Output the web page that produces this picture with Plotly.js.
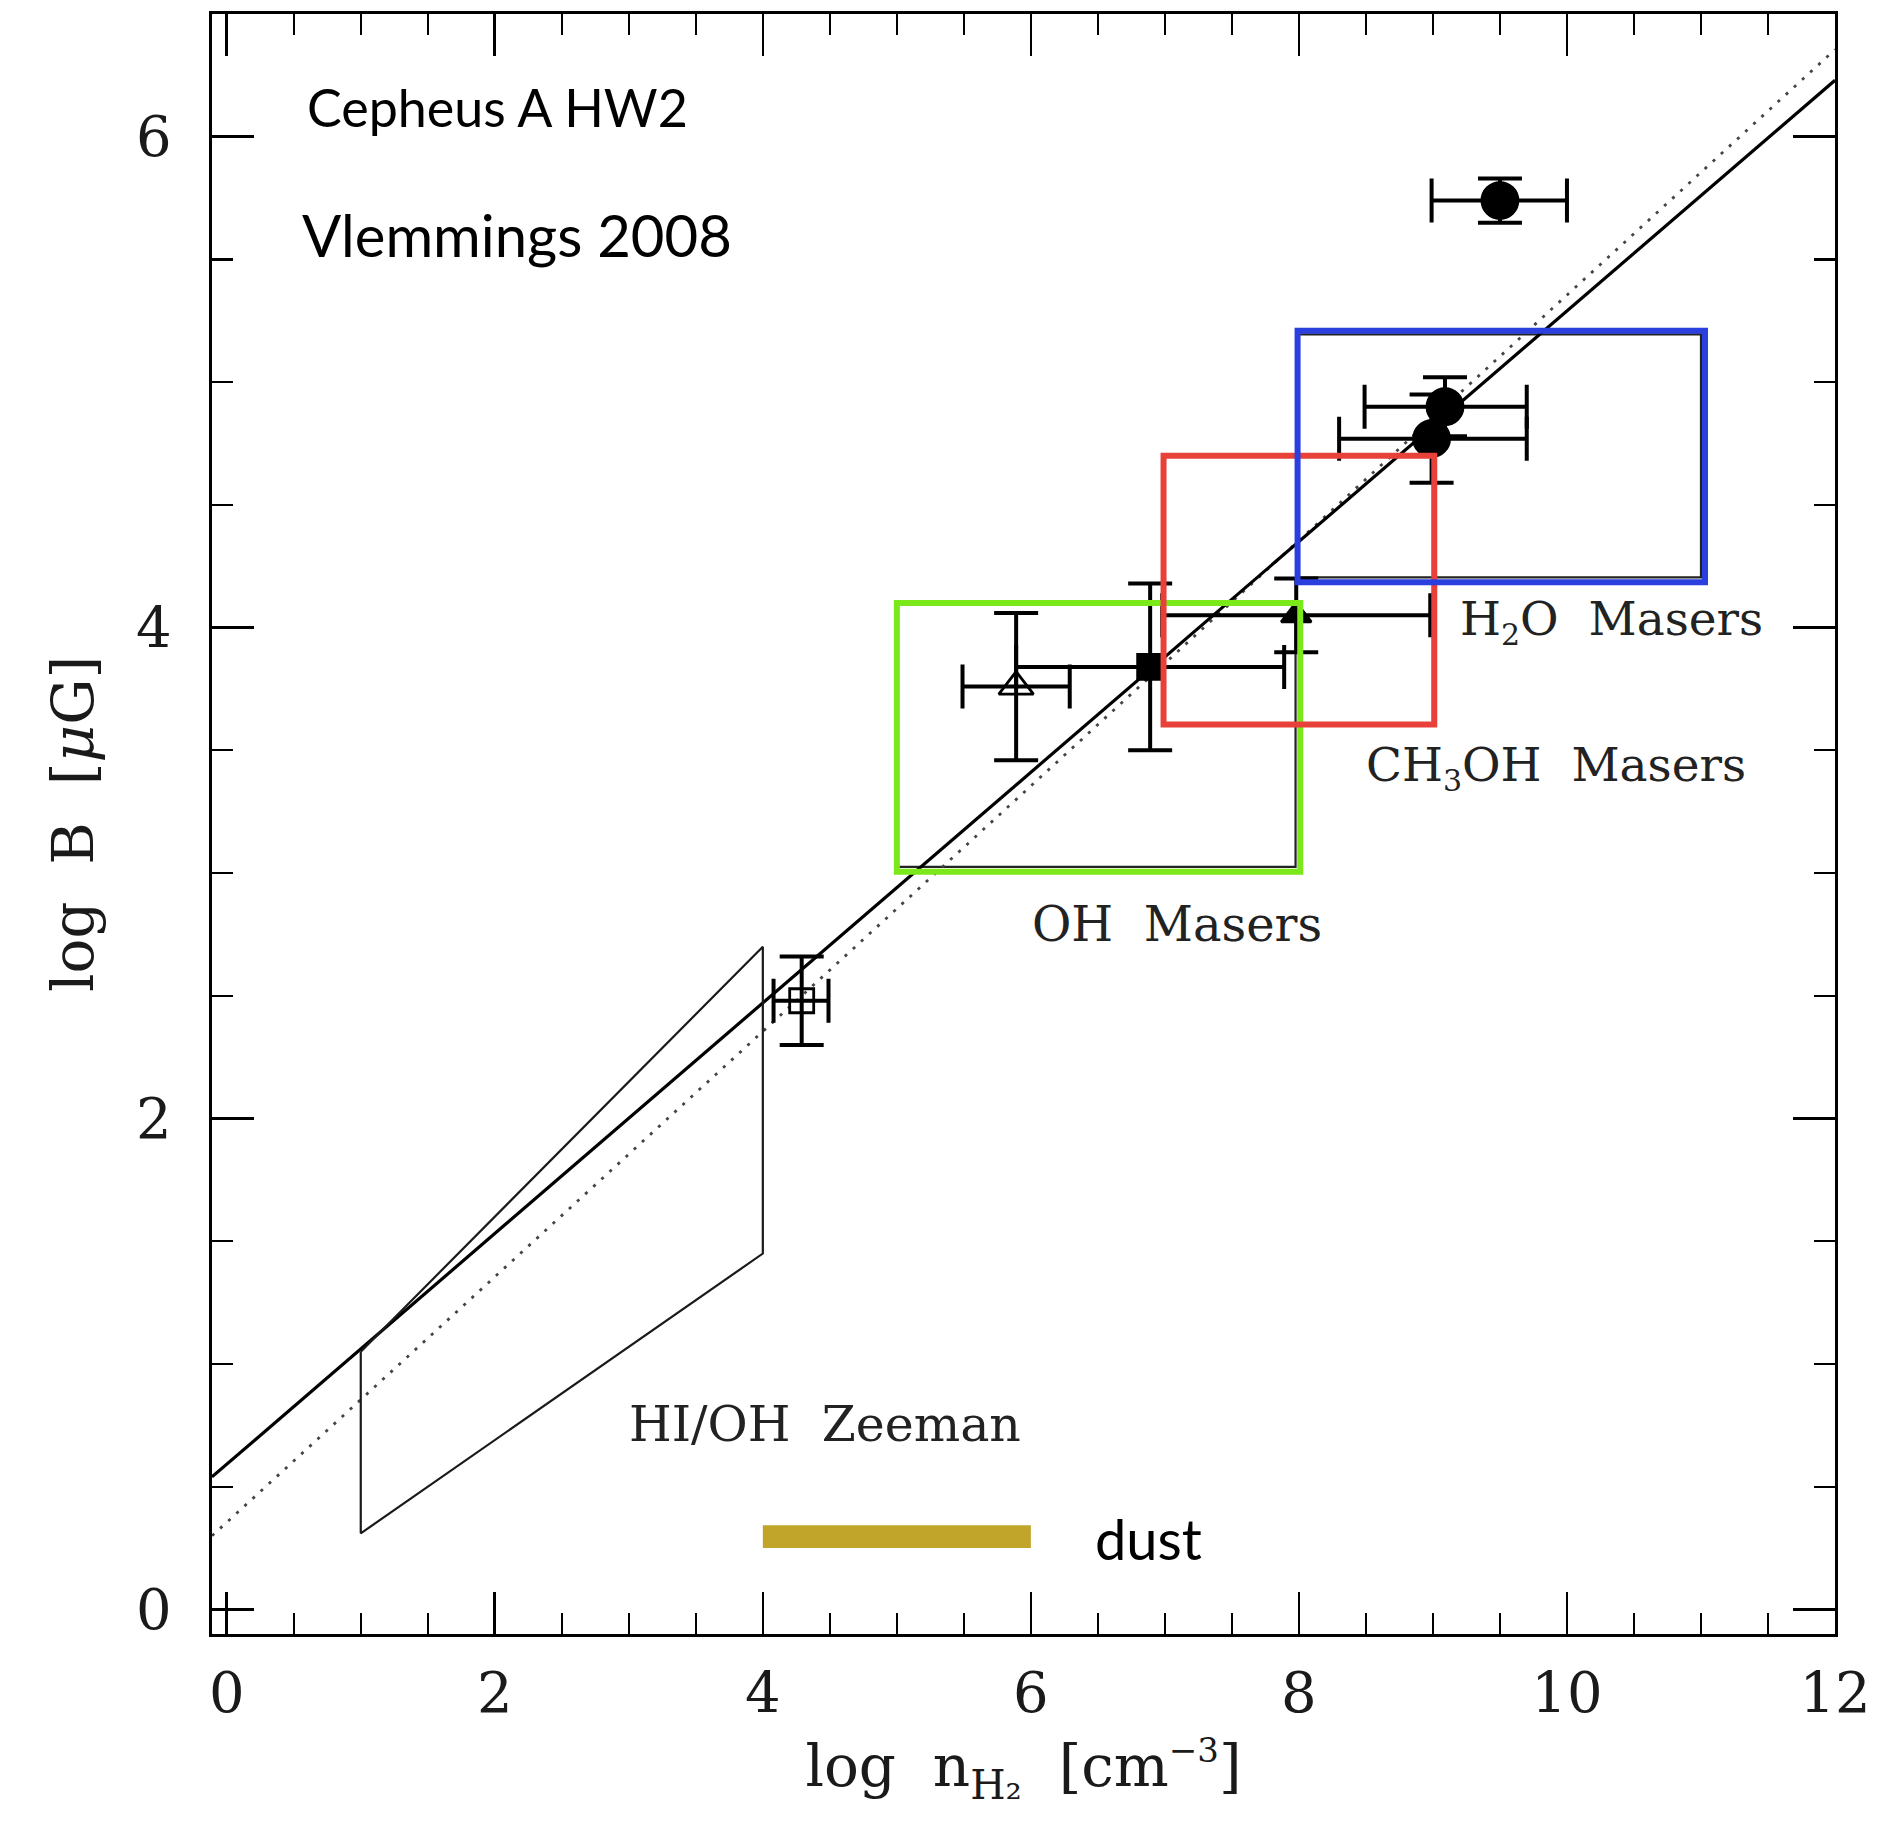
<!DOCTYPE html>
<html>
<head>
<meta charset="utf-8">
<script src="https://cdn.plot.ly/plotly-3.0.1.min.js"></script>
<style>
  html, body { margin: 0; padding: 0; background: #fff; }
  #chart { width: 1880px; height: 1829px; }
</style>
</head>
<body>
<div id="chart"></div>
<script>
// Magnetic field strength versus H2 number density (log-log)
const pointX     = [9.50, 9.09, 8.99, 7.98, 6.89, 5.89, 4.29];
const pointY     = [5.74, 4.90, 4.77, 4.05, 3.84, 3.76, 2.48];
const xErrPlus   = [0.50, 0.61, 0.71, 1.00, 1.00, 0.40, 0.20];
const xErrMinus  = [0.51, 0.60, 0.69, 1.00, 1.00, 0.40, 0.21];
const yErrPlus   = [0.09, 0.12, 0.18, 0.15, 0.34, 0.30, 0.18];
const yErrMinus  = [0.09, 0.12, 0.18, 0.15, 0.34, 0.30, 0.18];
const pointKind  = ['circle', 'circle', 'circle', 'triangle', 'square', 'triangle-open', 'square-open'];

// B-n relations
const fitX       = [-0.11, 12];
const fitSolidY  = [0.54, 6.23];
const fitDottedY = [0.30, 6.355];

// HI/OH Zeeman region
const zeemanX = [1, 4, 4, 1, 1];
const zeemanY = [1.05, 2.70, 1.45, 0.31, 1.05];

// Maser regions (outline boxes and coloured highlights)
const regionNames = ['OH', 'CH3OH', 'H2O'];
const regionX0 = [5.00, 7.00, 8.00];
const regionX1 = [7.975, 9.00, 11.00];
const regionY0 = [3.025, 3.61, 4.205];
const regionY1 = [4.10, 4.70, 5.195];
const highlightX0 = [5.00, 6.99, 7.99];
const highlightX1 = [8.01, 9.01, 11.03];
const highlightY0 = [3.005, 3.605, 4.185];
const highlightY1 = [4.10, 4.70, 5.21];

// Dust range
const dustX = [4.0, 6.0];
const dustY = [0.25, 0.343];

// Region labels
const SUB = s => '<sub><span style="font-size:30px">' + s + '</span></sub>';
const labelText = ['HI/OH  Zeeman', 'OH  Masers', 'CH' + SUB('3') + 'OH  Masers', 'H' + SUB('2') + 'O  Masers'];
const labelX = [2.99, 5.99, 8.485, 9.185];
const labelY = [0.753, 2.794, 3.43, 4.025];
const labelSize = [49, 48, 47, 47];

// Axis ticks
const xTickVals = [0, 2, 4, 6, 8, 10, 12];
const yTickVals = [0, 2, 4, 6];

const SERIF = '"DejaVu Serif", "Liberation Serif", serif';
const SANS = 'Lato, "Open Sans", sans-serif';

const kindStyle = {
  'circle':        { symbol: 'circle',           size: 36 },
  'triangle':      { symbol: 'triangle-up',      size: 26 },
  'square':        { symbol: 'square',           size: 25 },
  'triangle-open': { symbol: 'triangle-up-open', size: 30 },
  'square-open':   { symbol: 'square-open',      size: 24 }
};

const traces = [
  {
    x: fitX, y: fitDottedY, mode: 'lines', hoverinfo: 'skip',
    line: { color: '#444', width: 2.8, dash: '3px,8px' }
  },
  {
    x: fitX, y: fitSolidY, mode: 'lines', hoverinfo: 'skip',
    line: { color: '#000', width: 3.2 }
  },
  {
    x: zeemanX, y: zeemanY, mode: 'lines', hoverinfo: 'skip',
    line: { color: '#1a1a1a', width: 2.2 }
  },
  {
    x: pointX, y: pointY, mode: 'markers', hoverinfo: 'skip',
    marker: {
      symbol: pointKind.map(k => kindStyle[k].symbol),
      size: pointKind.map(k => kindStyle[k].size),
      color: '#000', opacity: 1,
      line: { color: '#000', width: 2.8 }
    },
    error_x: { type: 'data', symmetric: false, array: xErrPlus, arrayminus: xErrMinus,
               color: '#000', thickness: 4, width: 22 },
    error_y: { type: 'data', symmetric: false, array: yErrPlus, arrayminus: yErrMinus,
               color: '#000', thickness: 4, width: 22 }
  }
];

const highlightColors = ['#7BE81A', '#E8413A', '#2B3FDF'];
const shapes = [];
regionNames.forEach((name, i) => {
  shapes.push({
    type: 'rect', xref: 'x', yref: 'y', layer: 'below',
    x0: regionX0[i], x1: regionX1[i], y0: regionY0[i], y1: regionY1[i],
    line: { color: '#222', width: 2.2 }
  });
});
regionNames.forEach((name, i) => {
  shapes.push({
    type: 'rect', xref: 'x', yref: 'y', layer: 'above',
    x0: highlightX0[i], x1: highlightX1[i], y0: highlightY0[i], y1: highlightY1[i],
    line: { color: highlightColors[i], width: 6 }
  });
});
shapes.push({
  type: 'rect', xref: 'x', yref: 'y', layer: 'above',
  x0: dustX[0], x1: dustX[1], y0: dustY[0], y1: dustY[1],
  fillcolor: '#C1A52A', line: { width: 0 }
});

const annotations = labelText.map((t, i) => ({
  text: t, x: labelX[i], y: labelY[i], xref: 'x', yref: 'y',
  xanchor: 'left', yanchor: 'middle', showarrow: false,
  font: { family: SERIF, size: labelSize[i], color: '#222' }
}));
annotations.push(
  { text: 'Cepheus A HW2', x: 0.585, y: 6.12, xref: 'x', yref: 'y', xanchor: 'left', yanchor: 'middle',
    showarrow: false, font: { family: SANS, size: 52, color: '#000' } },
  { text: 'Vlemmings 2008', x: 0.55, y: 5.60, xref: 'x', yref: 'y', xanchor: 'left', yanchor: 'middle',
    showarrow: false, font: { family: SANS, size: 58, color: '#000' } },
  { text: 'dust', x: 6.46, y: 0.29, xref: 'x', yref: 'y', xanchor: 'left', yanchor: 'middle',
    showarrow: false, font: { family: SANS, size: 56, color: '#000' } }
);

const axisCommon = {
  showgrid: false, zeroline: false,
  showline: true, linecolor: '#000', linewidth: 3.2, mirror: 'ticks',
  ticks: 'inside', ticklen: 42, tickwidth: 2.6, tickcolor: '#000',
  tickfont: { family: SERIF, size: 56, color: '#1a1a1a' },
  minor: { ticks: 'inside', ticklen: 21, tickwidth: 2.2, tickcolor: '#000', dtick: 0.5, showgrid: false }
};

const layout = {
  width: 1880, height: 1829,
  margin: { l: 212, r: 45, t: 14, b: 195 },
  paper_bgcolor: '#fff', plot_bgcolor: '#fff',
  showlegend: false,
  xaxis: Object.assign({}, axisCommon, {
    range: [-0.11, 12], tickmode: 'array', tickvals: xTickVals, ticktext: xTickVals.map(String),
    ticklabelstandoff: 8,
    title: { text: 'log  n<sub>H₂</sub>  [cm<sup><span style="font-size:34px">−3</span></sup>]', standoff: 22,
             font: { family: SERIF, size: 58, color: '#1a1a1a' } }
  }),
  yaxis: Object.assign({}, axisCommon, {
    range: [-0.1, 6.5], tickmode: 'array', tickvals: yTickVals, ticktext: yTickVals.map(String),
    ticklabelstandoff: 26,
    title: { text: 'log  B  [<i>μ</i>G]', standoff: 24,
             font: { family: SERIF, size: 58, color: '#1a1a1a' } }
  }),
  shapes: shapes,
  annotations: annotations
};

Plotly.newPlot('chart', traces, layout, { staticPlot: true, displayModeBar: false });
</script>
</body>
</html>
